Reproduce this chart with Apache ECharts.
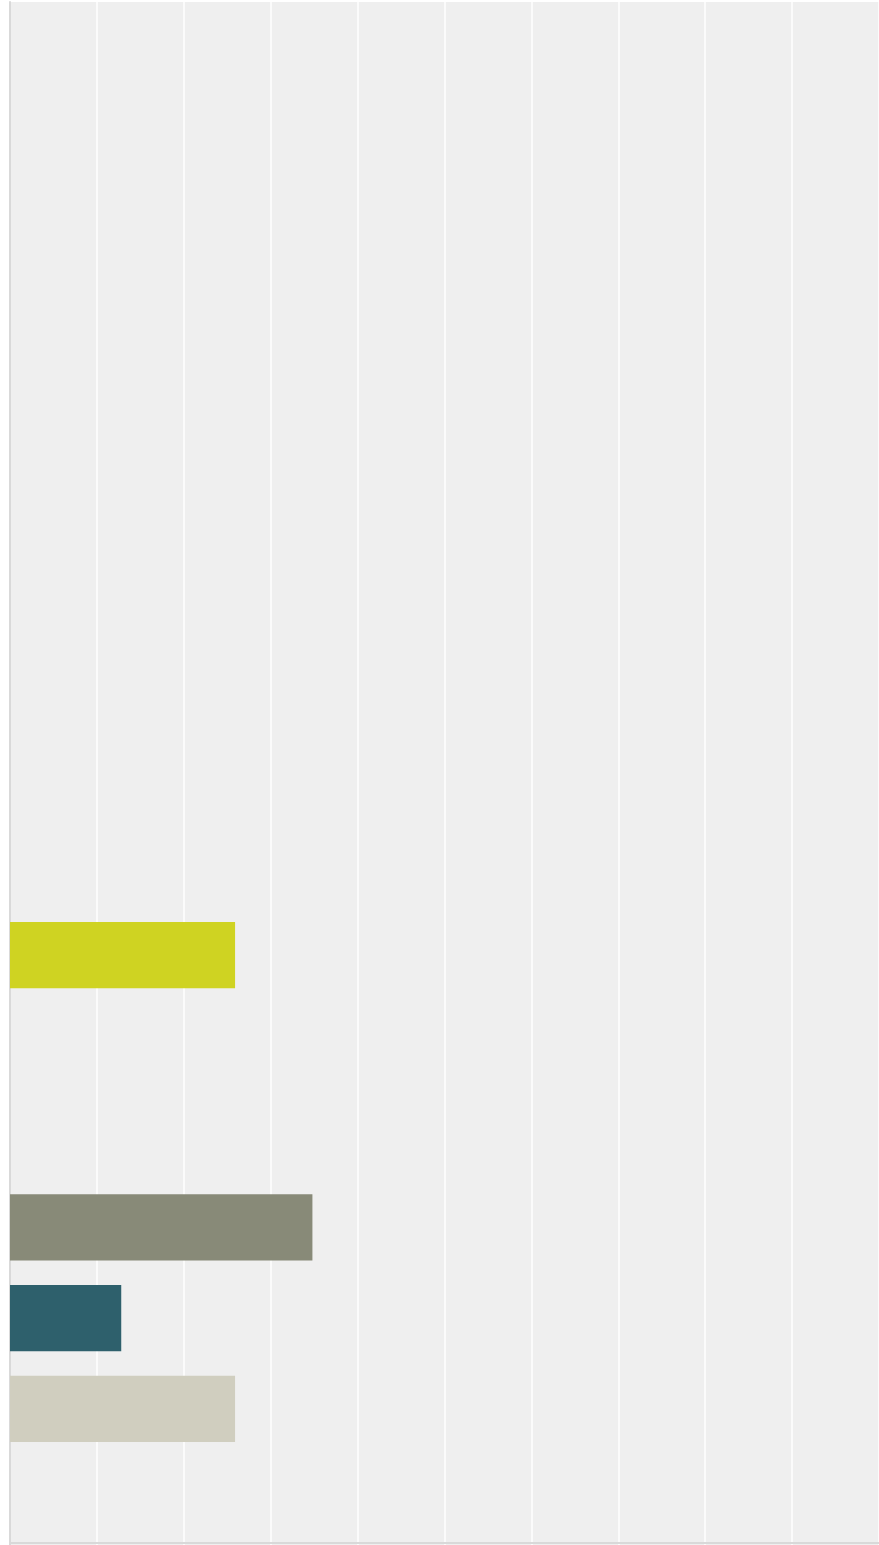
<!DOCTYPE html>
<html>
<head>
<meta charset="utf-8">
<script src="https://cdn.jsdelivr.net/npm/echarts@6/dist/echarts.min.js"></script>
<style>
html,body{margin:0;padding:0;background:#ffffff;}
#chart{width:879px;height:1545px;}
</style>
</head>
<body>
<div id="chart"></div>
<script>
// Categories, top to bottom (labels are not shown in the reference)
const categories = ["C1","C2","C3","C4","C5","C6","C7","C8","C9","C10","C11","C12","C13","C14","C15","C16","C17"];
// Values per category (null = no bar)
const values = [null,null,null,null,null,null,null,null,null,null,2.59,null,null,3.48,1.28,2.59,null];
const barColors = [null,null,null,null,null,null,null,null,null,null,"#cfd322",null,null,"#888a78","#2e606c","#d0cebf",null];
const xTicks = [0,1,2,3,4,5,6,7,8,9,10];

const chart = echarts.init(document.getElementById('chart'), null, {renderer:'canvas'});
chart.setOption({
  animation:false,
  backgroundColor:'#ffffff',
  grid:{left:10,right:0,top:2,bottom:0,show:true,backgroundColor:'#efefef',borderWidth:0,containLabel:false},
  xAxis:{
    type:'value',min:xTicks[0],max:xTicks[xTicks.length-1],interval:1,
    offset:-2,
    axisLabel:{show:false},axisTick:{show:false},
    axisLine:{show:true,lineStyle:{color:'#d9d9d9',width:2}},
    splitLine:{show:true,lineStyle:{color:'#ffffff',width:1.5}}
  },
  yAxis:{
    type:'category',data:categories,inverse:true,
    axisLabel:{show:false},axisTick:{show:false},
    axisLine:{show:true,lineStyle:{color:'#d9d9d9',width:2}},
    splitLine:{show:false}
  },
  series:[{
    type:'bar',
    barWidth:'73%',
    data:values.map((v,i)=>({value:v,itemStyle:{color:barColors[i]||'#cccccc'}}))
  }]
});
</script>
</body>
</html>
